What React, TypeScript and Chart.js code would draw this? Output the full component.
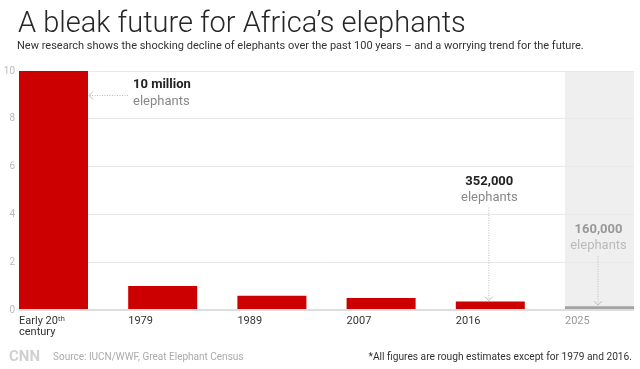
import { useEffect, useRef } from "react";
import { Chart, registerables } from "chart.js";

Chart.register(...registerables);

// ---- data ----
const categories: (string | string[])[] = [["Early 20ᵗʰ", "century"], "1979", "1989", "2007", "2016", "2025"];
const populationMillions = [10, 1.0, 0.6, 0.5, 0.352, 0.16];
const yTicks = [0, 2, 4, 6, 8, 10];
const projectedIndex = 5;

const titleText = "A bleak future for Africa’s elephants";
const subtitleText =
  "New research shows the shocking decline of elephants over the past 100 years – and a worrying trend for the future.";
const sourceText = "Source: IUCN/WWF, Great Elephant Census";
const noteText = "*All figures are rough estimates except for 1979 and 2016.";

const annotations = [
  { index: 0, title: "10 million", sub: "elephants", kind: "left", lift: 0, muted: false },
  { index: 4, title: "352,000", sub: "elephants", kind: "down", lift: 120, muted: false },
  { index: 5, title: "160,000", sub: "elephants", kind: "down", lift: 76, muted: true },
];

// ---- styling ----
const BAR_PCT = 0.632;
const HALF = BAR_PCT / 2;
const RED = "#cc0000";
const GREY_BAR = "#a3a3a3";
const FONT = "Roboto, 'Noto Sans', sans-serif";

function drawDotted(ctx: CanvasRenderingContext2D, x1: number, y1: number, x2: number, y2: number, color: string) {
  ctx.save();
  ctx.strokeStyle = color;
  ctx.lineWidth = 1;
  ctx.setLineDash([1, 1.5]);
  ctx.beginPath();
  ctx.moveTo(x1, y1);
  ctx.lineTo(x2, y2);
  ctx.stroke();
  ctx.restore();
}

function drawHead(ctx: CanvasRenderingContext2D, x: number, y: number, dir: "left" | "down", color: string) {
  ctx.save();
  ctx.strokeStyle = color;
  ctx.lineWidth = 1;
  ctx.beginPath();
  if (dir === "left") {
    ctx.moveTo(x + 4, y - 4);
    ctx.lineTo(x, y);
    ctx.lineTo(x + 4, y + 4);
  } else {
    ctx.moveTo(x - 4, y - 4);
    ctx.lineTo(x, y);
    ctx.lineTo(x + 4, y - 4);
  }
  ctx.stroke();
  ctx.restore();
}

const decorPlugin = {
  id: "decor",
  beforeDraw(chart: any) {
    const { ctx, chartArea } = chart;
    const x = chart.scales.x;
    const y = chart.scales.y;
    const left = x.getPixelForValue(projectedIndex - HALF);
    const top = y.getPixelForValue(y.max);
    const bottom = y.getPixelForValue(0);
    ctx.save();
    ctx.fillStyle = "#efefef";
    ctx.fillRect(left, top, chartArea.right - left, bottom - top);
    ctx.restore();
  },
  afterDraw(chart: any) {
    const { ctx, width } = chart;
    const x = chart.scales.x;
    const y = chart.scales.y;
    ctx.save();
    // header
    ctx.textBaseline = "alphabetic";
    ctx.textAlign = "left";
    ctx.fillStyle = "#262626";
    ctx.font = `300 29px ${FONT}`;
    ctx.fillText(titleText, 18, 31.5);
    ctx.fillStyle = "#333";
    ctx.font = `400 11px ${FONT}`;
    ctx.fillText(subtitleText, 17, 48.5);
    // footer
    ctx.fillStyle = "#d0d0d0";
    ctx.font = `700 15px ${FONT}`;
    ctx.fillText("CNN", 9, 361);
    ctx.fillStyle = "#aaa";
    ctx.font = `400 10px ${FONT}`;
    ctx.fillText(sourceText, 53, 359.5);
    ctx.fillStyle = "#333";
    ctx.font = `400 10.2px ${FONT}`;
    ctx.textAlign = "right";
    ctx.fillText(noteText, width - 8, 359.5);

    // annotations
    ctx.textBaseline = "middle";
    for (const a of annotations) {
      const v = populationMillions[a.index];
      const cx = x.getPixelForValue(a.index);
      const barRight = x.getPixelForValue(a.index + HALF);
      const topPx = y.getPixelForValue(v);
      const titleColor = a.muted ? "#999" : "#222";
      const subColor = a.muted ? "#bbb" : "#888";
      const lineColor = a.muted ? "#bdbdbd" : "#bbb";
      if (a.kind === "left") {
        const tx = barRight + 45;
        ctx.textAlign = "left";
        ctx.fillStyle = titleColor;
        ctx.font = `700 13px ${FONT}`;
        ctx.fillText(a.title, tx, topPx + 14);
        ctx.fillStyle = subColor;
        ctx.font = `400 13px ${FONT}`;
        ctx.fillText(a.sub, tx, topPx + 31);
        drawDotted(ctx, tx - 5, topPx + 24.5, barRight + 1, topPx + 24.5, lineColor);
        drawHead(ctx, barRight + 1, topPx + 24.5, "left", lineColor);
      } else {
        const ty = topPx - a.lift;
        ctx.textAlign = "center";
        ctx.fillStyle = titleColor;
        ctx.font = `700 13px ${FONT}`;
        ctx.fillText(a.title, cx - 1, ty);
        ctx.fillStyle = subColor;
        ctx.font = `400 13px ${FONT}`;
        ctx.fillText(a.sub, cx - 1, ty + 16);
        drawDotted(ctx, cx - 1.5, ty + 26, cx - 1.5, topPx - 1, lineColor);
        drawHead(ctx, cx - 1.5, topPx - 1, "down", lineColor);
      }
    }
    ctx.restore();
  },
};

export default function App() {
  const canvasRef = useRef<HTMLCanvasElement | null>(null);

  useEffect(() => {
    if (!canvasRef.current) return;
    const chart = new Chart(canvasRef.current, {
      type: "bar",
      data: {
        datasets: [
          {
            data: populationMillions.map((v, i) => ({ x: i, y: v })),
            backgroundColor: populationMillions.map((_, i) => (i === projectedIndex ? GREY_BAR : RED)),
            borderWidth: 0,
            barPercentage: BAR_PCT,
            categoryPercentage: 1,
          },
        ],
      },
      options: {
        animation: false,
        responsive: true,
        maintainAspectRatio: false,
        layout: { padding: { top: 71, right: 6, left: 0, bottom: 0 } },
        plugins: { legend: { display: false }, tooltip: { enabled: false }, title: { display: false } },
        scales: {
          x: {
            type: "linear",
            offset: false,
            min: -HALF,
            max: categories.length - 1 + HALF,
            grid: { display: false, drawTicks: false, offset: false },
            border: { display: false },
            afterBuildTicks: (scale: any) => {
              scale.ticks = categories.map((_, i) => ({ value: i - HALF }));
            },
            afterFit: (scale: any) => {
              scale.height = 59;
            },
            ticks: {
              align: "start",
              autoSkip: false,
              maxRotation: 0,
              padding: 5,
              callback: (_v: any, i: number) => categories[i],
              color: (c: any) => (c.index === projectedIndex ? "#999" : "#333"),
              font: { family: FONT, size: 11, lineHeight: 1.05 },
            },
          },
          y: {
            min: 0,
            max: 10,
            border: { display: false },
            afterBuildTicks: (scale: any) => {
              scale.ticks = yTicks.map((v) => ({ value: v }));
            },
            afterFit: (scale: any) => {
              scale.width = 19;
            },
            grid: {
              drawTicks: false,
              color: (c: any) => (c.tick && c.tick.value === 0 ? "#dedede" : "#e8e8e8"),
              lineWidth: (c: any) => (c.tick && c.tick.value === 0 ? 2 : 1),
            },
            ticks: {
              padding: 4,
              color: "#bbb",
              font: { family: FONT, size: 10 },
            },
          },
        },
      } as any,
      plugins: [decorPlugin],
    });
    return () => chart.destroy();
  }, []);

  return (
    <div style={{ position: "absolute", left: 0, top: 0, width: 640, height: 369, background: "#fff" }}>
      <canvas ref={canvasRef} />
    </div>
  );
}
